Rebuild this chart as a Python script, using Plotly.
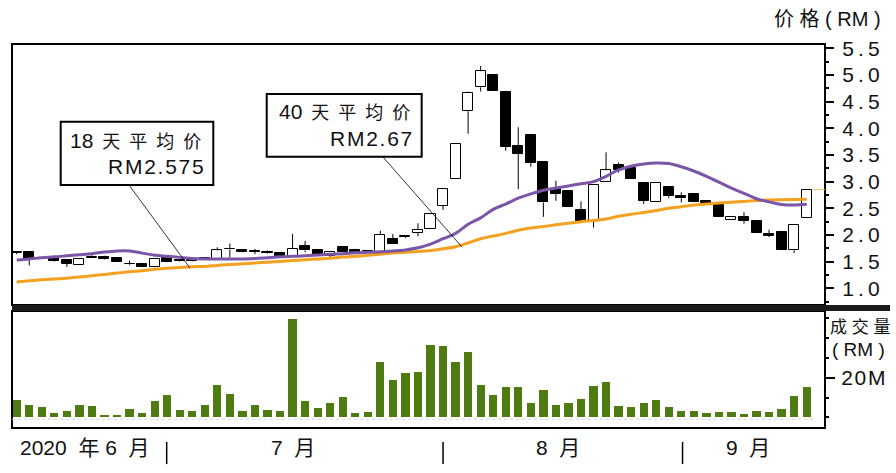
import plotly.graph_objects as go

# ---------------- data ----------------
idx = list(range(1, 65))
opens = [1.67, 1.68, 1.56, 1.58, 1.53, 1.43, 1.56, 1.59, 1.565, 1.46,
         1.455, 1.395, 1.56, 1.53, 1.55, 1.55, 1.55, 1.73, 1.71, 1.69,
         1.675, 1.66, 1.60, 1.80, 1.71, 1.61, 1.77, 1.72, 1.70, 1.69,
         1.925, 1.96, 2.04, 2.11, 2.55, 3.05, 4.32, 4.77, 5.00, 4.69,
         3.66, 3.88, 3.36, 2.86, 2.82, 2.47, 2.27, 2.99, 3.31, 3.25,
         2.97, 2.61, 2.905, 2.74, 2.77, 2.64, 2.56, 2.275, 2.33, 2.26,
         2.02, 2.06, 1.71, 2.32]
highs = [1.70, 1.69, 1.59, 1.59, 1.55, 1.55, 1.62, 1.61, 1.57, 1.52,
         1.46, 1.56, 1.57, 1.55, 1.56, 1.58, 1.77, 1.84, 1.71, 1.74,
         1.71, 1.66, 2.02, 1.89, 1.71, 1.69, 1.78, 1.74, 1.70, 2.08,
         2.02, 1.99, 2.22, 2.40, 2.88, 3.70, 4.69, 5.17, 5.00, 4.69,
         4.02, 3.88, 3.36, 3.02, 2.82, 2.63, 2.94, 3.55, 3.36, 3.25,
         2.97, 2.97, 2.905, 2.80, 2.77, 2.64, 2.62, 2.33, 2.425, 2.26,
         2.10, 2.06, 2.19, 2.84]
lows = [1.64, 1.43, 1.55, 1.50, 1.40, 1.43, 1.56, 1.54, 1.49, 1.43,
        1.39, 1.39, 1.49, 1.50, 1.50, 1.54, 1.55, 1.58, 1.67, 1.64,
        1.65, 1.60, 1.60, 1.675, 1.62, 1.55, 1.68, 1.67, 1.67, 1.69,
        1.83, 1.94, 1.975, 2.11, 2.47, 3.05, 3.90, 4.69, 4.70, 3.58,
        2.86, 3.28, 2.34, 2.64, 2.52, 2.26, 2.14, 2.99, 3.17, 3.05,
        2.58, 2.61, 2.69, 2.61, 2.61, 2.60, 2.34, 2.275, 2.21, 2.03,
        1.96, 1.71, 1.66, 2.32]
closes = [1.69, 1.55, 1.575, 1.51, 1.46, 1.55, 1.58, 1.55, 1.49, 1.45,
          1.395, 1.55, 1.50, 1.51, 1.51, 1.565, 1.71, 1.745, 1.675, 1.68,
          1.66, 1.60, 1.74, 1.71, 1.63, 1.69, 1.69, 1.675, 1.675, 2.00,
          1.83, 1.975, 2.10, 2.39, 2.86, 3.70, 4.67, 5.07, 4.70, 3.65,
          3.52, 3.35, 2.61, 2.77, 2.52, 2.26, 2.94, 3.21, 3.22, 3.05,
          2.64, 2.97, 2.725, 2.69, 2.61, 2.60, 2.34, 2.33, 2.26, 2.03,
          1.99, 1.71, 2.19, 2.84]
ma18 = [1.53, 1.55, 1.575, 1.59, 1.61, 1.63, 1.65, 1.68, 1.70, 1.70,
        1.66, 1.62, 1.60, 1.58, 1.56, 1.55, 1.55, 1.55, 1.55, 1.56,
        1.575, 1.59, 1.60, 1.61, 1.625, 1.64, 1.65, 1.665, 1.675, 1.685,
        1.70, 1.72, 1.76, 1.83, 1.93, 2.03, 2.20, 2.32, 2.48, 2.58,
        2.69, 2.77, 2.84, 2.88, 2.92, 2.96, 3.00, 3.10, 3.22, 3.29,
        3.33, 3.35, 3.34, 3.28, 3.20, 3.10, 2.99, 2.88, 2.78, 2.68,
        2.62, 2.57, 2.56, 2.575]
ma40 = [1.12, 1.14, 1.16, 1.175, 1.19, 1.21, 1.235, 1.26, 1.285, 1.31,
        1.33, 1.355, 1.375, 1.39, 1.405, 1.41, 1.43, 1.445, 1.46, 1.475,
        1.49, 1.505, 1.52, 1.535, 1.55, 1.565, 1.585, 1.60, 1.62, 1.64,
        1.66, 1.675, 1.69, 1.71, 1.74, 1.78, 1.85, 1.93, 1.98, 2.03,
        2.09, 2.13, 2.16, 2.19, 2.22, 2.25, 2.27, 2.30, 2.35, 2.39,
        2.42, 2.46, 2.50, 2.53, 2.56, 2.58, 2.60, 2.615, 2.63, 2.645,
        2.655, 2.66, 2.665, 2.67]
volume_m = [8.7, 6.2, 5.4, 2.4, 3.4, 6.2, 5.7, 1.4, 1.4, 4.2,
            2.4, 8.2, 11.1, 3.7, 3.4, 6.2, 16.3, 11.6, 3.4, 6.2,
            3.7, 3.4, 49.5, 8.2, 4.9, 7.1, 10.1, 2.4, 2.9, 28.1,
            18.8, 22.4, 22.9, 36.5, 35.9, 27.8, 32.8, 16.3, 11.1, 15.5,
            15.5, 7.1, 13.6, 6.2, 7.1, 9.2, 15.8, 18.0, 5.7, 5.1,
            7.1, 8.7, 5.2, 3.4, 3.4, 2.0, 2.9, 2.9, 1.5, 3.4,
            2.9, 4.0, 10.8, 15.5]
last_price = 2.85
price_ticks = [1.0, 1.5, 2.0, 2.5, 3.0, 3.5, 4.0, 4.5, 5.0, 5.5]
vol_ticks = [20]
month_labels = ["2020  年 6  月", "7  月", "8  月", "9  月"]
month_label_pos = [6.45, 23.0, 44.2, 59.3]
month_breaks = [12.96, 35.0, 54.1]

# ---------------- styling ----------------
FONT = "Liberation Sans, Arial, Noto Sans CJK SC, sans-serif"
PURPLE = "#7a55a8"
ORANGE = "#f4a11f"
GREEN = "#4e7c12"
XR = [0.625, 65.46]

thin = "\u2009"
hair = "\u200a"
price_ticktext = [thin.join(f"{v:.1f}") for v in price_ticks]

body_base = [min(o, c) for o, c in zip(opens, closes)]
body_h = [max(abs(c - o), 0.014) for o, c in zip(opens, closes)]
body_fill = ["white" if c >= o else "black" for o, c in zip(opens, closes)]

wx, wy = [], []
for i, o, h, l, c in zip(idx, opens, highs, lows, closes):
    top, bot = max(o, c), min(o, c)
    if h > top:
        wx += [i, i, None]
        wy += [top, h, None]
    if l < bot:
        wx += [i, i, None]
        wy += [l, bot, None]

fig = go.Figure()
fig.add_trace(go.Bar(x=idx, y=body_h, base=body_base, width=0.8,
                     marker=dict(color=body_fill, line=dict(color="black", width=1)),
                     xaxis="x", yaxis="y", showlegend=False, hoverinfo="skip"))
fig.add_trace(go.Scatter(x=wx, y=wy, mode="lines", line=dict(color="black", width=1),
                         xaxis="x", yaxis="y", showlegend=False, hoverinfo="skip"))
fig.add_trace(go.Scatter(x=idx, y=ma40, mode="lines", line=dict(color=ORANGE, width=3, shape="spline"),
                         xaxis="x", yaxis="y", showlegend=False))
fig.add_trace(go.Scatter(x=idx, y=ma18, mode="lines", line=dict(color=PURPLE, width=3, shape="spline"),
                         xaxis="x", yaxis="y", showlegend=False))
fig.add_trace(go.Bar(x=idx, y=volume_m, width=0.66, marker=dict(color=GREEN, line=dict(width=0)),
                     xaxis="x2", yaxis="y2", showlegend=False))

shapes = []
shapes.append(dict(type="rect", xref="x domain", yref="y domain", x0=0, x1=1, y0=0, y1=1,
                   line=dict(color="black", width=2)))
shapes.append(dict(type="rect", xref="x2 domain", yref="y2 domain", x0=0, x1=1, y0=0, y1=1,
                   line=dict(color="black", width=2)))
shapes.append(dict(type="rect", xref="paper", yref="paper", x0=0, x1=1.08, y0=0.3047, y1=0.3203,
                   fillcolor="#1a1a1a", line=dict(width=0)))
shapes.append(dict(type="line", xref="x2", yref="y2", x0=XR[0], x1=64.5, y0=-1.0, y1=-1.0,
                   line=dict(color="#d8d8d8", width=1, dash="dot")))
shapes.append(dict(type="line", xref="x", yref="y", x0=64.5, x1=XR[1], y0=last_price, y1=last_price,
                   line=dict(color="#f2c860", width=1)))
shapes.append(dict(type="rect", xref="paper", yref="paper", x0=0.0599, x1=0.2476, y0=0.6328, y1=0.7977,
                   fillcolor="white", line=dict(color="black", width=2)))
shapes.append(dict(type="rect", xref="paper", yref="paper", x0=0.3133, x1=0.5039, y0=0.7065, y1=0.8698,
                   fillcolor="white", line=dict(color="black", width=2)))
shapes.append(dict(type="line", xref="paper", yref="paper", x0=0.1439, y0=0.6328, x1=0.2189, y1=0.4167,
                   line=dict(color="black", width=0.8)))
shapes.append(dict(type="line", xref="paper", yref="paper", x0=0.4563, y0=0.7057, x1=0.5535, y1=0.4714,
                   line=dict(color="black", width=0.8)))
for b in month_breaks:
    shapes.append(dict(type="line", xref="x2", yref="paper", x0=b, x1=b, y0=-0.0365, y1=-0.094,
                       line=dict(color="black", width=1.5)))

ann = []
def txt(x, y, s, size=21, xanchor="center", xref="paper"):
    ann.append(dict(x=x, y=y, xref=xref, yref="paper", text=s, showarrow=False,
                    xanchor=xanchor, yanchor="middle", font=dict(family=FONT, size=size, color="#111")))

cjk_label = "<span style='font-size:18px'>\u2002天\u2002平\u2002均\u2002价</span>"
txt(0.2349, 0.7482, "18" + cjk_label, xanchor="right")
txt(0.2386, 0.6805, hair.join("RM2.575"), xanchor="right")
txt(0.4920, 0.8237, "40" + cjk_label, xanchor="right")
txt(0.4945, 0.7544, hair.join("RM2.67"), xanchor="right")
for s, p in zip(month_labels, month_label_pos):
    txt(p, -0.0495, s, xref="x2")
txt(1.0713, 1.0664, "价 格 ( RM )", size=20, xanchor="right")
txt(1.0430, 0.2617, "成 交 量", size=17)
txt(1.0406, 0.2057, "( RM )", size=19)
fig.update_layout(
    width=896, height=473,
    margin=dict(l=12, r=71, t=44, b=45),
    paper_bgcolor="white", plot_bgcolor="white",
    showlegend=False, barmode="overlay", bargap=0,
    font=dict(family=FONT, size=21, color="#111"),
    xaxis=dict(domain=[0, 1], anchor="y", range=XR, visible=False),
    xaxis2=dict(domain=[0, 1], anchor="y2", range=XR, visible=False),
    yaxis=dict(domain=[0.3203, 1], anchor="x", side="right", range=[0.687, 5.581],
               tickvals=price_ticks, ticktext=price_ticktext, ticks="outside", ticklen=8,
               tickwidth=1.5, tickcolor="black", showgrid=False, zeroline=False,
               ticklabelstandoff=4, automargin=False,
               minor=dict(dtick=0.25, tick0=0, ticks="outside", ticklen=3, tickcolor="black", showgrid=False),
               tickfont=dict(family=FONT, size=21, color="#111")),
    yaxis2=dict(domain=[0, 0.3047], anchor="x2", side="right", range=[-5.4, 53.7],
                tickvals=vol_ticks, ticktext=[hair.join("20M")], ticks="outside", ticklen=9,
                tickwidth=1.5, tickcolor="black", showgrid=False, zeroline=False,
                ticklabelstandoff=2, automargin=False,
                minor=dict(tickvals=[0, 10, 30, 40, 50], ticks="outside", ticklen=3, tickcolor="black", showgrid=False),
                tickfont=dict(family=FONT, size=21, color="#111")),
    shapes=shapes, annotations=ann,
)
fig.write_html("out.html", config={"displayModeBar": False},
               post_script="document.body.style.margin='0';document.body.style.overflow='hidden';")
